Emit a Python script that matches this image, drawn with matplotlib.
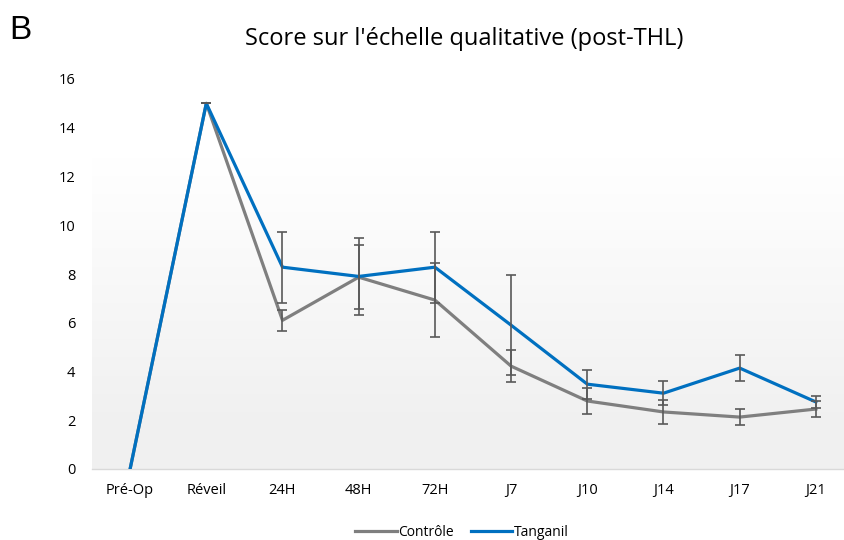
import numpy as np
import matplotlib.pyplot as plt

plt.rcParams['font.family'] = ['Open Sans', 'DejaVu Sans']

temps = ["Pré-Op", "Réveil", "24H", "48H", "72H", "J7", "J10", "J14", "J17", "J21"]
controle = [0, 15, 6.1, 7.87, 6.93, 4.22, 2.79, 2.34, 2.13, 2.46]
controle_err = [0, 0, 0.43, 1.31, 1.51, 0.67, 0.53, 0.49, 0.32, 0.32]
tanganil = [0, 15, 8.28, 7.9, 8.28, 5.9, 3.48, 3.11, 4.14, 2.75]
tanganil_err = [0, 0, 1.46, 1.58, 1.46, 2.05, 0.6, 0.5, 0.53, 0.26]

fig = plt.figure(figsize=(8.45, 5.4), dpi=100)
# zone de tracé : les catégories sont espacées de ~76 px, elle dépasse un peu à droite
ax = fig.add_axes([92 / 845, 1 - 469 / 540, 762 / 845, 390 / 540])

# fond en dégradé (blanc en haut, gris clair en bas)
fond = np.ones((256, 1, 3))
haut = np.array([1.0, 1.0, 1.0])
bas = np.array([0.945, 0.945, 0.945])
for i in range(256):
    t = i / 255
    t = max(0.0, (t - 0.18) / 0.82)
    fond[255 - i, 0] = haut * t + bas * (1 - t)
ax.imshow(fond, extent=[0, 1, 0, 0.8], transform=ax.transAxes, aspect='auto', zorder=0)

x = np.arange(len(temps))
ax.plot(x, controle, color='#7f7f7f', lw=2.3, zorder=2, label='Contrôle')
ax.plot(x, tanganil, color='#0070c0', lw=2.3, zorder=3, label='Tanganil')
ax.errorbar(x[1:], controle[1:], yerr=controle_err[1:], fmt='none', ecolor='#595959',
            elinewidth=1.2, capsize=3.8, capthick=1.2, zorder=4)
ax.errorbar(x[1:], tanganil[1:], yerr=tanganil_err[1:], fmt='none', ecolor='#595959',
            elinewidth=1.2, capsize=3.8, capthick=1.2, zorder=4)

ax.set_xlim(-0.5, len(temps) - 0.5)
ax.set_ylim(0, 16)
ax.set_yticks(range(0, 17, 2))
ax.set_xticks(x)
ax.set_xticklabels(temps)
ax.tick_params(axis='both', length=0, labelsize=10.5, colors='black')
ax.tick_params(axis='y', pad=12)
ax.tick_params(axis='x', pad=10)
for s in ['top', 'right', 'left']:
    ax.spines[s].set_visible(False)
ax.spines['bottom'].set_color('#d9d9d9')
ax.spines['bottom'].set_linewidth(1)
ax.set_facecolor('white')

fig.text(464 / 845, 1 - 39 / 540, "Score sur l'échelle qualitative (post-THL)",
         ha='center', va='center', fontsize=17)
fig.text(9 / 845, 1 - 31 / 540, "B", ha='left', va='center', fontsize=24,
         family='Liberation Sans')

fig.legend(loc='center', bbox_to_anchor=(462 / 845, 1 - 532 / 540), ncol=2, frameon=False,
           fontsize=10, handlelength=3, handletextpad=0.1, columnspacing=1.2)

fig.savefig('out.png', dpi=100)
